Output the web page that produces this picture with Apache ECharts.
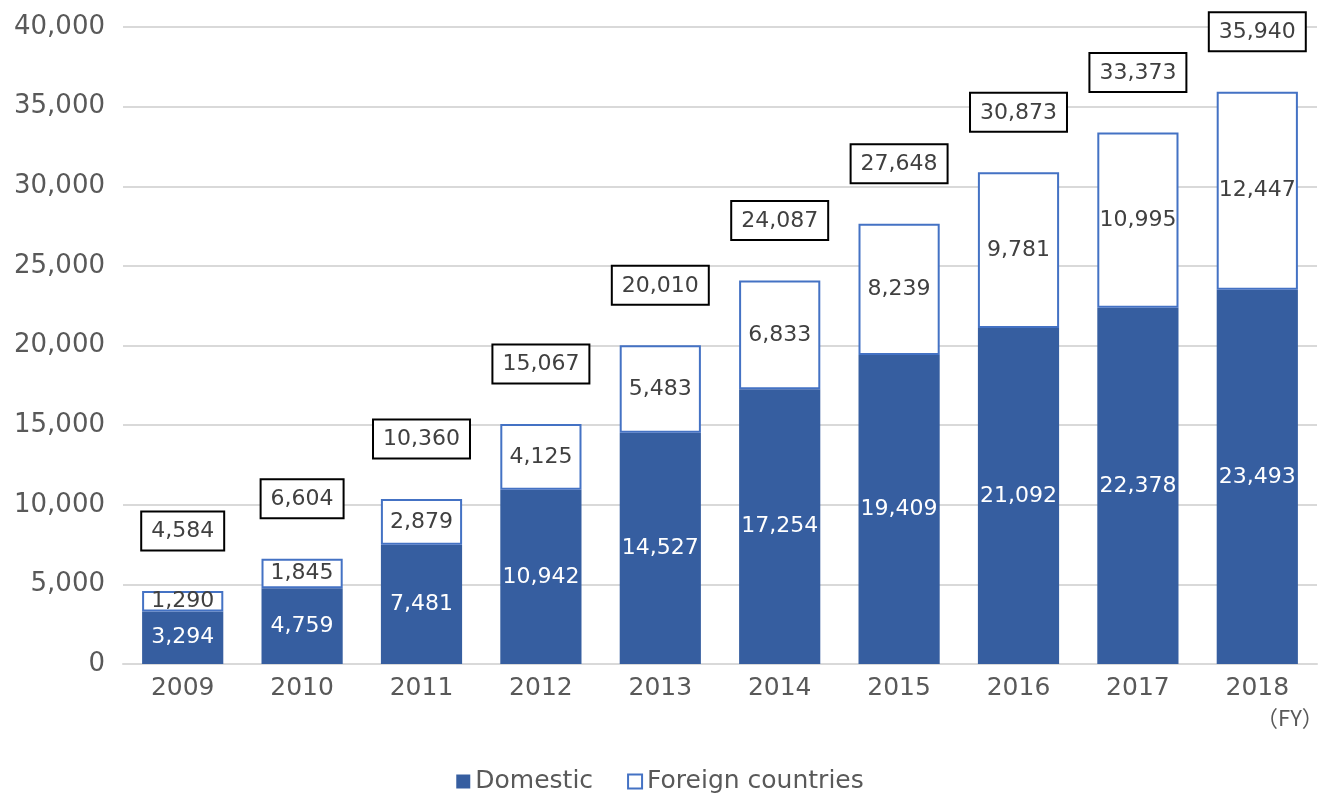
<!DOCTYPE html>
<html><head><meta charset="utf-8">
<script src="https://cdn.jsdelivr.net/npm/echarts@6/dist/echarts.min.js"></script>
<style>html,body{margin:0;padding:0;background:#fff}#c{width:1320px;height:796px}</style>
</head><body><div id="c"></div>
<script>
const years = ['2009','2010','2011','2012','2013','2014','2015','2016','2017','2018'];
const domestic = [3294,4759,7481,10942,14527,17254,19409,21092,22378,23493];
const foreign = [1290,1845,2879,4125,5483,6833,8239,9781,10995,12447];
const totals = [4584,6604,10360,15067,20010,24087,27648,30873,33373,35940];
const yTicks = [0,5000,10000,15000,20000,25000,30000,35000,40000];

const FONT = '"DejaVu Sans", "Noto Sans CJK JP", sans-serif';
const fmt = v => Number(v).toLocaleString('en-US');
const chart = echarts.init(document.getElementById('c'));
chart.setOption({
  animation: false,
  textStyle: {fontFamily: FONT},
  grid: {left: 123, right: 3, top: 27, height: 637},
  legend: {
    top: 764, left: 'center', itemWidth: 14, itemHeight: 14, itemGap: 34,
    icon: 'rect',
    textStyle: {fontSize: 25, color: '#595959', fontFamily: FONT},
    data: ['Domestic', 'Foreign countries']
  },
  xAxis: {
    type: 'category', data: years,
    axisTick: {show: false},
    axisLine: {lineStyle: {color: '#d9d9d9', width: 2}},
    axisLabel: {fontSize: 25, color: '#595959', margin: 12}
  },
  yAxis: {
    type: 'value', min: yTicks[0], max: yTicks[yTicks.length-1], interval: 5000,
    axisLabel: {fontSize: 26, color: '#595959', margin: 18, formatter: v => fmt(v)},
    splitLine: {lineStyle: {color: '#d9d9d9', width: 2}},
    axisLine: {show: false}, axisTick: {show: false}
  },
  series: [
    {
      name: 'Domestic', type: 'bar', stack: 'a', data: domestic, barWidth: '68%',
      itemStyle: {color: '#365ea0'},
      label: {show: true, position: 'inside', color: '#ffffff', fontSize: 22, formatter: p => fmt(p.value)}
    },
    {
      name: 'Foreign countries', type: 'bar', stack: 'a', data: foreign, barWidth: '68%',
      itemStyle: {color: '#ffffff', borderColor: '#4472c4', borderWidth: 2},
      label: {show: true, position: 'inside', color: '#404040', fontSize: 22, formatter: p => fmt(p.value)}
    },
    {
      name: 'Total', type: 'scatter', data: totals, symbolSize: 1,
      itemStyle: {color: 'rgba(0,0,0,0)', opacity: 1}, silent: true, z: 10,
      emphasis: {disabled: true},
      label: {
        show: true, position: 'top', distance: 41, color: '#404040', fontSize: 22,
        backgroundColor: '#ffffff', borderColor: '#000000', borderWidth: 2,
        padding: [6, 9, 5, 9], lineHeight: 26, formatter: p => fmt(p.value)
      }
    }
  ],
  graphic: [{
    type: 'text', left: 1256, top: 707,
    style: {text: '（FY）', fontSize: 22, fill: '#595959', fontFamily: '"Noto Sans CJK JP", sans-serif'}
  }]
});
</script></body></html>
